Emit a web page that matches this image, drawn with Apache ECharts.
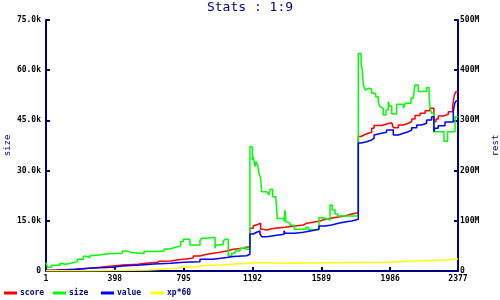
<!DOCTYPE html>
<html><head><meta charset="utf-8">
<script src="https://cdn.jsdelivr.net/npm/echarts@6/dist/echarts.min.js"></script>
<style>html,body{margin:0;padding:0;background:#fff}#c{width:500px;height:300px}</style>
</head><body><div id="c"></div>
<script>
// x positions are sample indices (1-based); y values: size in k, rest in M
const xTickLabels = ['1','398','795','1192','1589','1986','2377'];
const leftTickLabels = ['0','15.0k','30.0k','45.0k','60.0k','75.0k'];
const rightTickLabels = ['0','100M','200M','300M','400M','500M'];
const seriesNames = ['score','size','value','xp*60'];

const sizeX = [1,10,32,82,89,115,143,182,216,233,255,278,307,345,441,470,493,566,643,682,716,749,778,793,831,889,899,924,976,981,994,1023,1033,1052,1072,1091,1120,1139,1154,1177,1191,1196,1206,1212,1221,1229,1239,1245,1274,1283,1287,1293,1308,1326,1335,1374,1379,1385,1389,1408,1433,1500,1514,1575,1594,1619,1639,1652,1668,1683,1802,1818,1825,1831,1841,1850,1863,1879,1902,1917,1927,1937,1946,1962,1975,1981,1995,2023,2062,2073,2106,2118,2129,2148,2196,2210,2215,2225,2238,2296,2317,2360,2377];
const sizeY = [2.5,1.1,1.7,2.3,2.0,2.3,2.8,3.5,4.4,4.0,4.6,4.8,5.1,5.3,6.0,5.5,5.2,5.8,6.0,6.6,7.1,7.5,8.8,9.5,7.8,9.1,9.8,10.1,6.8,7.8,8.0,8.8,9.5,4.5,5.3,6.0,6.8,7.3,6.5,37.1,33.2,34.2,31.2,32.7,31.7,29.2,27.7,23.7,23.2,23.7,22.7,24.4,22.2,21.7,15.7,14.7,18.2,14.7,14.3,13.7,12.5,13.1,12.3,15.9,15.7,15.2,19.7,18.2,17.0,16.4,65.0,62.1,60.1,55.6,54.1,54.6,54.4,53.1,52.1,50.6,49.1,48.6,46.6,48.1,50.6,49.3,46.9,49.8,48.6,50.1,51.6,52.1,55.6,53.6,54.8,52.6,49.1,47.1,41.6,38.8,41.6,46.1,46.1];

const scoreX = [1,41,167,249,312,387,445,532,576,643,658,720,755,807,850,889,928,966,1004,1043,1081,1139,1158,1177,1196,1206,1225,1239,1251,1274,1303,1331,1379,1437,1485,1504,1542,1581,1610,1644,1677,1725,1764,1802,1818,1835,1860,1879,1893,1939,1965,1995,2004,2033,2062,2091,2110,2129,2158,2187,2215,2238,2250,2263,2292,2321,2346,2356,2365,2377];
const scoreY = [1.5,3.4,5.4,7.4,10.0,12.0,13.3,15.3,17.3,19.3,19.9,21.9,23.9,25.9,29.9,33.3,35.3,37.3,39.8,43.2,45.2,47.2,48.4,85.1,89.6,93.0,95.0,83.1,81.7,84.3,85.7,87.1,89.6,91.6,95.0,97.0,99.6,103.0,105.0,107.0,109.6,113.5,116.1,267.9,270.9,274.3,276.3,284.3,289.8,292.8,295.4,297.4,285.5,290.8,294.2,297.8,302.8,309.8,314.1,319.3,324.1,297.4,302.8,308.8,312.1,317.3,328.7,350.6,357.2,357.2];

const valueX = [1,47,180,249,382,441,547,624,720,797,889,964,1043,1081,1158,1177,1196,1216,1235,1245,1274,1303,1331,1374,1379,1437,1485,1533,1575,1610,1648,1687,1725,1764,1802,1818,1850,1879,1893,1902,1937,1965,2004,2033,2062,2091,2110,2139,2167,2196,2225,2238,2244,2263,2302,2350,2358,2365,2377];
const valueY = [0.8,3.4,5.4,7.4,10.0,12.0,13.9,15.3,17.3,18.5,23.3,26.9,28.9,30.5,33.3,73.7,77.1,79.7,73.7,68.3,69.7,71.1,73.1,80.3,75.1,77.1,80.3,83.1,89.6,91.6,95.0,97.6,99.6,103.0,255.0,257.6,261.0,264.3,270.9,274.3,276.3,280.9,270.9,274.3,277.5,280.9,285.5,290.8,294.2,300.8,307.4,277.5,284.3,289.4,296.8,318.7,334.1,338.6,338.6];

const xpX = [1,249,595,758,791,870,928,1004,1091,1245,1379,1639,1975,2129,2312,2377];
const xpY = [0.6,2.0,5.4,7.4,8.6,11.4,12.0,13.9,16.9,15.3,16.5,17.3,19.9,21.9,23.9,23.9];

const NAVY = '#000080';
const MONO = 'DejaVu Sans Mono';
// axis runs on zero-based index; labels show 1-based
const pts = (xs, ys) => xs.map((x, i) => [x - 1, ys[i]]);
const xFirst = 1, xLast = 2377, xStep = 397;

function mk(name, xs, ys, color, yAxisIndex) {
  return {
    name, type: 'line', step: 'end', yAxisIndex,
    data: pts(xs, ys), symbol: 'none', showSymbol: false,
    lineStyle: { color, width: 1.5 }, itemStyle: { color },
    emphasis: { disabled: true }
  };
}
const legendLefts = [4, 53, 101, 151];
const colors = ['#ff0000', '#00ff00', '#0000ff', '#ffff00'];

const chart = echarts.init(document.getElementById('c'), null, { renderer: 'canvas' });
chart.setOption({
  animation: false,
  backgroundColor: '#fff',
  title: {
    text: 'Stats : 1:9', left: 'center', top: 1, padding: 0,
    textStyle: { color: NAVY, fontSize: 13, fontWeight: 'normal', fontFamily: MONO }
  },
  legend: seriesNames.map((n, i) => ({
    data: [n], left: legendLefts[i], top: 289, itemWidth: 13, itemHeight: 3, icon: 'rect',
    itemGap: 0, padding: 0,
    textStyle: { color: NAVY, fontSize: 8, fontWeight: 'bold', fontFamily: MONO, padding: [0, 0, 0, -2] }
  })),
  grid: { left: 46, right: 42, top: 20, bottom: 29, containLabel: false, outerBoundsMode: 'none' },
  xAxis: {
    type: 'value', min: xFirst - 1, max: xLast - 1, interval: xStep,
    axisLine: { lineStyle: { color: NAVY, width: 2 } },
    axisTick: { inside: true, length: 4, lineStyle: { color: NAVY, width: 2 } },
    axisLabel: {
      color: '#000', fontSize: 8, fontWeight: 'bold', fontFamily: MONO, margin: 4, showMaxLabel: true, showMinLabel: true,
      formatter: v => { const i = Math.round(v / xStep); return (v === xLast - 1) ? xTickLabels[xTickLabels.length - 1] : (xTickLabels[i] || String(v + 1)); }
    },
    splitLine: { show: false }
  },
  yAxis: [{
    type: 'value', min: 0, max: 75, interval: 15, position: 'left',
    name: 'size', nameLocation: 'middle', nameGap: 34, nameMoveOverlap: false,
    nameTextStyle: { color: NAVY, fontSize: 9, fontFamily: MONO },
    axisLine: { show: true, lineStyle: { color: NAVY, width: 2 } },
    axisTick: { show: true, inside: true, length: 4, lineStyle: { color: NAVY, width: 2 } },
    axisLabel: { color: '#000', fontSize: 8, fontWeight: 'bold', fontFamily: MONO, margin: 5, formatter: v => leftTickLabels[Math.round(v / 15)] },
    splitLine: { show: false }
  }, {
    type: 'value', min: 0, max: 500, interval: 100, position: 'right',
    name: 'rest', nameLocation: 'middle', nameGap: 33, nameMoveOverlap: false,
    nameTextStyle: { color: NAVY, fontSize: 9, fontFamily: MONO },
    axisLine: { show: true, lineStyle: { color: NAVY, width: 2 } },
    axisTick: { show: true, inside: true, length: 4, lineStyle: { color: NAVY, width: 2 } },
    axisLabel: { color: '#000', fontSize: 8, fontWeight: 'bold', fontFamily: MONO, margin: 2, formatter: v => rightTickLabels[Math.round(v / 100)] },
    splitLine: { show: false }
  }],
  series: [
    mk(seriesNames[0], scoreX, scoreY, colors[0], 1),
    mk(seriesNames[1], sizeX, sizeY, colors[1], 0),
    mk(seriesNames[2], valueX, valueY, colors[2], 1),
    mk(seriesNames[3], xpX, xpY, colors[3], 1)
  ]
});
</script></body></html>
